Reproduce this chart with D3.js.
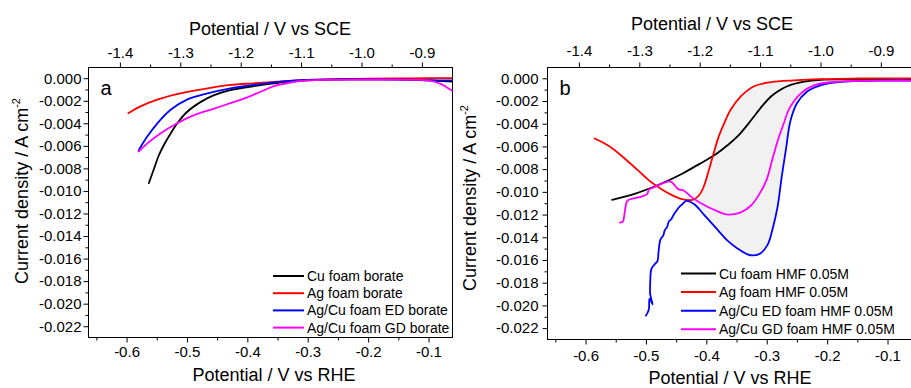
<!DOCTYPE html>
<html lang="en">
<head>
<meta charset="UTF-8">
<title>Current density vs potential</title>
<script src="https://d3js.org/d3.v7.min.js"></script>
<style>
  body { margin: 0; background: #fff; }
  svg { display: block; font-family: Arial, "Liberation Sans", sans-serif; }
  .axis line { stroke: #000; stroke-width: 1; }
  .axis text { font-size: 15px; fill: #000; font-family: Arial, "Liberation Sans", sans-serif; }
  .frame { fill: none; stroke: #000; stroke-width: 1; }
  .title { font-size: 18px; fill: #000; }
  .series { fill: none; stroke-width: 1.8; stroke-linejoin: round; stroke-linecap: round; }
  .legend text { font-size: 14px; fill: #000; }
</style>
</head>
<body>
<svg width="911" height="388"></svg>
<script>
// potential vs RHE (V), current density (A cm^-2)
const aCu = [[-0.563,-0.0093],[-0.555,-0.0081],[-0.547,-0.0069],[-0.538,-0.0059],[-0.527,-0.0049],[-0.516,-0.0040],[-0.500,-0.0030],[-0.477,-0.0021],[-0.455,-0.0015],[-0.428,-0.00106],[-0.389,-0.0007],[-0.345,-0.0004],[-0.30,-0.0002],[-0.25,-0.0001],[-0.20,-0.0001],[-0.15,-0.0001],[-0.10,-0.0002],[-0.06,-0.0003]];
const aAg = [[-0.597,-0.0031],[-0.577,-0.0025],[-0.549,-0.0019],[-0.511,-0.00135],[-0.466,-0.0009],[-0.428,-0.0006],[-0.39,-0.00045],[-0.35,-0.0003],[-0.30,-0.00015],[-0.25,-0.0001],[-0.20,-0.00005],[-0.15,-0.00002],[-0.10,0],[-0.06,0]];
const aED = [[-0.580,-0.0064],[-0.566,-0.0052],[-0.549,-0.0040],[-0.527,-0.0028],[-0.500,-0.0019],[-0.466,-0.00135],[-0.428,-0.0009],[-0.389,-0.0006],[-0.345,-0.0003],[-0.30,-0.00015],[-0.25,-0.0001],[-0.20,-0.0001],[-0.15,-0.00012],[-0.10,-0.00018],[-0.06,-0.0002]];
const aGD = [[-0.580,-0.0065],[-0.566,-0.0058],[-0.544,-0.0049],[-0.516,-0.0040],[-0.489,-0.0033],[-0.455,-0.0027],[-0.422,-0.0021],[-0.40,-0.0017],[-0.378,-0.0012],[-0.356,-0.0007],[-0.33,-0.0004],[-0.30,-0.0002],[-0.25,-0.00015],[-0.20,-0.00012],[-0.15,-0.00012],[-0.12,-0.00015],[-0.10,-0.0002],[-0.08,-0.0005],[-0.07,-0.0008],[-0.061,-0.0011]];

const bCu = [[-0.556,-0.0107],[-0.52,-0.0102],[-0.48,-0.0094],[-0.44,-0.0084],[-0.42,-0.0078],[-0.40,-0.0072],[-0.382,-0.0066],[-0.365,-0.0059],[-0.348,-0.0051],[-0.326,-0.0037],[-0.31,-0.0026],[-0.293,-0.0016],[-0.28,-0.0011],[-0.266,-0.0007],[-0.238,-0.0003],[-0.21,-0.00013],[-0.15,-0.0001],[-0.06,-0.0001]];
const bAg = [[-0.585,-0.0053],[-0.56,-0.0060],[-0.53,-0.0073],[-0.503,-0.0086],[-0.49,-0.0092],[-0.476,-0.0097],[-0.46,-0.0102],[-0.44,-0.01065],[-0.423,-0.0107],[-0.412,-0.0103],[-0.404,-0.0095],[-0.397,-0.0083],[-0.39,-0.0070],[-0.38,-0.0052],[-0.37,-0.0039],[-0.36,-0.0028],[-0.343,-0.0016],[-0.321,-0.0007],[-0.293,-0.00034],[-0.255,-0.00018],[-0.21,-0.00007],[-0.15,-0.00002],[-0.06,0]];
const bED = [[-0.500,-0.0209],[-0.497,-0.0206],[-0.495,-0.0203],[-0.494,-0.0194],[-0.489,-0.0199],[-0.493,-0.0190],[-0.493,-0.0181],[-0.491,-0.0168],[-0.486,-0.0164],[-0.481,-0.0161],[-0.479,-0.0152],[-0.476,-0.0142],[-0.471,-0.0138],[-0.469,-0.0134],[-0.465,-0.0131],[-0.462,-0.0126],[-0.458,-0.0124],[-0.455,-0.0121],[-0.450,-0.0117],[-0.446,-0.0114],[-0.440,-0.0111],[-0.433,-0.0108],[-0.42,-0.0111],[-0.404,-0.0120],[-0.382,-0.0133],[-0.365,-0.0143],[-0.348,-0.0150],[-0.332,-0.0155],[-0.322,-0.0156],[-0.31,-0.0154],[-0.298,-0.0146],[-0.290,-0.0132],[-0.282,-0.0113],[-0.275,-0.0086],[-0.268,-0.0062],[-0.261,-0.0038],[-0.250,-0.0022],[-0.234,-0.0012],[-0.21,-0.0006],[-0.172,-0.0003],[-0.10,-0.0002],[-0.06,-0.0002]];
const bGD = [[-0.543,-0.0127],[-0.538,-0.0126],[-0.536,-0.0121],[-0.534,-0.0114],[-0.531,-0.0108],[-0.523,-0.0106],[-0.509,-0.01045],[-0.498,-0.0102],[-0.495,-0.0098],[-0.487,-0.0096],[-0.47,-0.0092],[-0.459,-0.0091],[-0.448,-0.0097],[-0.445,-0.0098],[-0.437,-0.0099],[-0.426,-0.0104],[-0.409,-0.0110],[-0.382,-0.0117],[-0.365,-0.0120],[-0.343,-0.0118],[-0.326,-0.0112],[-0.31,-0.0100],[-0.30,-0.0089],[-0.29,-0.0070],[-0.28,-0.0052],[-0.272,-0.0040],[-0.262,-0.0026],[-0.243,-0.0013],[-0.221,-0.0006],[-0.183,-0.0003],[-0.10,-0.0002],[-0.06,-0.0002]];

const legendA = ['Cu foam borate', 'Ag foam borate', 'Ag/Cu foam ED borate', 'Ag/Cu foam GD borate'];
const legendB = ['Cu foam HMF 0.05M', 'Ag foam HMF 0.05M', 'Ag/Cu ED foam HMF 0.05M', 'Ag/Cu GD foam HMF 0.05M'];
const colors = ['#000000', '#ff0000', '#0000ff', '#ff00ff'];

const rheTicks = [-0.6, -0.5, -0.4, -0.3, -0.2, -0.1];
const rheMinor = [-0.65, -0.55, -0.45, -0.35, -0.25, -0.15];
const sceTicks = [-1.4, -1.3, -1.2, -1.1, -1.0, -0.9];
const sceMinor = [-1.35, -1.25, -1.15, -1.05, -0.95];
const yTicks = [0, -0.002, -0.004, -0.006, -0.008, -0.010, -0.012, -0.014, -0.016, -0.018, -0.020, -0.022];
const yMinor = [-0.001, -0.003, -0.005, -0.007, -0.009, -0.011, -0.013, -0.015, -0.017, -0.019, -0.021];
const sceOffset = 0.789;

const svg = d3.select('svg');

function drawPanel(p) {
  const x = d3.scaleLinear().domain([-0.663, -0.0603]).range([p.left, p.right]);
  const xTop = d3.scaleLinear().domain(x.domain().map(v => v - sceOffset)).range([p.left, p.right]);
  const y = d3.scaleLinear().domain([-0.0230, 0.00095]).range([p.bottom, p.top]);
  const g = svg.append('g');

  const line = d3.line()
    .x(d => x(d[0]))
    .y(d => y(d[1]))
    .curve(d3.curveCatmullRom.alpha(0.5));

  // shaded area between two curves
  if (p.fill) {
    g.append('path')
      .attr('d', line(p.fill) + 'Z')
      .attr('fill', '#f1f1f1')
      .attr('stroke', 'none');
  }

  // axes
  g.append('g').attr('class', 'axis')
    .attr('transform', `translate(0,${p.bottom})`)
    .call(d3.axisBottom(x).tickValues(rheTicks).tickSize(5).tickPadding(p.padB).tickFormat(d => d.toFixed(1)))
    .call(a => a.select('.domain').remove());
  g.append('g').attr('class', 'axis')
    .attr('transform', `translate(0,${p.bottom})`)
    .call(d3.axisBottom(x).tickValues(rheMinor).tickSize(3).tickFormat(''))
    .call(a => a.select('.domain').remove());

  g.append('g').attr('class', 'axis')
    .attr('transform', `translate(0,${p.top})`)
    .call(d3.axisTop(xTop).tickValues(sceTicks).tickSize(5).tickPadding(p.padT).tickFormat(d => d.toFixed(1)))
    .call(a => a.select('.domain').remove());
  g.append('g').attr('class', 'axis')
    .attr('transform', `translate(0,${p.top})`)
    .call(d3.axisTop(xTop).tickValues(sceMinor).tickSize(3).tickFormat(''))
    .call(a => a.select('.domain').remove());

  g.append('g').attr('class', 'axis')
    .attr('transform', `translate(${p.left},0)`)
    .call(d3.axisLeft(y).tickValues(yTicks).tickSize(5).tickPadding(p.padL).tickFormat(d => d.toFixed(3)))
    .call(a => a.select('.domain').remove());
  g.append('g').attr('class', 'axis')
    .attr('transform', `translate(${p.left},0)`)
    .call(d3.axisLeft(y).tickValues(yMinor).tickSize(3).tickFormat(''))
    .call(a => a.select('.domain').remove());

  g.append('rect').attr('class', 'frame')
    .attr('x', p.left).attr('y', p.top)
    .attr('width', p.right - p.left).attr('height', p.bottom - p.top);

  // curves
  const clipId = 'clip-' + p.letter;
  g.append('clipPath').attr('id', clipId).append('rect')
    .attr('x', p.left).attr('y', p.top)
    .attr('width', p.right - p.left).attr('height', p.bottom - p.top);
  g.append('g').attr('clip-path', `url(#${clipId})`)
    .selectAll('path').data(p.series).join('path')
    .attr('class', 'series')
    .attr('stroke', (d, i) => colors[i])
    .attr('d', d => line(d));

  // titles
  g.append('text').attr('class', 'title').attr('text-anchor', 'middle')
    .attr('x', p.topTitle[0]).attr('y', p.topTitle[1]).text('Potential / V vs SCE');
  g.append('text').attr('class', 'title').attr('text-anchor', 'middle')
    .attr('x', p.botTitle[0]).attr('y', p.botTitle[1]).text('Potential / V vs RHE');
  const yl = g.append('text').attr('class', 'title').attr('text-anchor', 'middle')
    .attr('transform', `translate(${p.yTitle[0]},${p.yTitle[1]}) rotate(-90)`);
  yl.append('tspan').text('Current density / A cm');
  yl.append('tspan').attr('dy', -8).style('font-size', '11px').text('-2');

  g.append('text').attr('x', p.left + 12).attr('y', p.top + 27)
    .style('font-size', '20px').text(p.letter);

  // legend
  const lg = g.append('g').attr('class', 'legend');
  p.legend.forEach((name, i) => {
    const ly = p.legY + i * p.legStep;
    lg.append('line')
      .attr('x1', p.legX).attr('x2', p.legX + p.legLen)
      .attr('y1', ly).attr('y2', ly)
      .attr('stroke', colors[i]).attr('stroke-width', 2);
    lg.append('text')
      .attr('x', p.legX + p.legLen + 3).attr('y', ly + 5)
      .text(name);
  });
}

const edTail = bED.slice(bED.findIndex(d => d[0] === -0.433)).filter(d => d[0] <= -0.2);
const agTop = bAg.filter(d => d[0] > -0.433 && d[0] <= -0.2);
const fillB = agTop.concat(edTail.slice().reverse());

drawPanel({
  letter: 'a', left: 88.5, right: 452.5, top: 67.5, bottom: 337.5,
  padB: 4, padT: 5, padL: 2,
  series: [aCu, aAg, aED, aGD],
  legend: legendA, legX: 273, legLen: 31, legY: 276, legStep: 17.2,
  topTitle: [270, 35], botTitle: [274, 381], yTitle: [28, 191]
});

drawPanel({
  letter: 'b', left: 547.5, right: 911.5, top: 67.5, bottom: 339.5,
  padB: 6, padT: 7, padL: 4,
  series: [bCu, bAg, bED, bGD], fill: fillB,
  legend: legendB, legX: 681, legLen: 35, legY: 273.5, legStep: 18.6,
  topTitle: [712, 30], botTitle: [730, 384], yTitle: [476, 198]
});
</script>
</body>
</html>
